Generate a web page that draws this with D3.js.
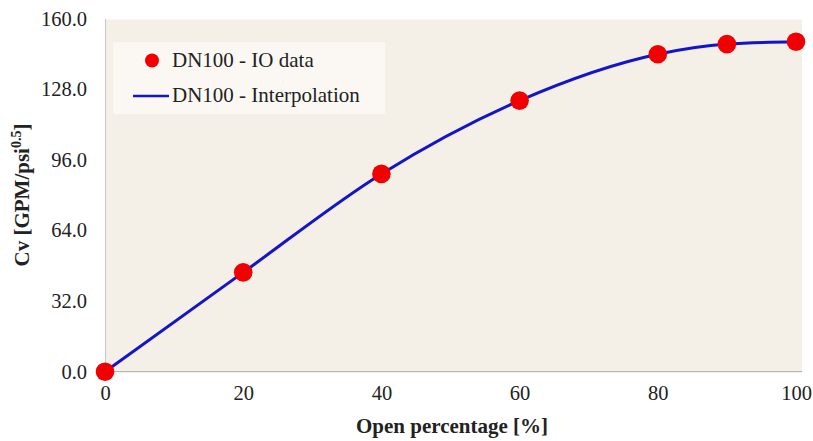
<!DOCTYPE html>
<html><head><meta charset="utf-8">
<script src="https://cdn.jsdelivr.net/npm/d3@7"></script>
<style>body{margin:0;background:#fff}svg{display:block}</style>
</head><body>
<svg id="c" width="813" height="441"></svg>
<script>
const openPct = [0, 20, 40, 60, 80, 90, 100];
const cvValues = [0, 45.0, 89.6, 122.8, 143.8, 148.4, 149.5];
const xTicks = [0, 20, 40, 60, 80, 100];
const yTicks = [0, 32, 64, 96, 128, 160];
const seriesNames = ["DN100 - IO data", "DN100 - Interpolation"];

const svg = d3.select("#c");
const x = d3.scaleLinear().domain([0, 100]).range([105, 796]);
const y = d3.scaleLinear().domain([0, 160]).range([371.7, 18.5]);
const ff = "Liberation Serif, Times New Roman, serif";

// plot area
svg.append("rect").attr("x", 105).attr("y", 19.5).attr("width", 697).attr("height", 352.2)
  .attr("fill", "#f5f0e7");

// axes
const xAxis = svg.append("g").attr("transform", "translate(0,371.7)")
  .call(d3.axisBottom(x).tickValues(xTicks).tickSize(0).tickPadding(14).tickFormat(d3.format("d")));
xAxis.select(".domain").attr("stroke", "#a8a8a8").attr("d", "M105,0H802");
const yAxis = svg.append("g").attr("transform", "translate(105,0)")
  .call(d3.axisLeft(y).tickValues(yTicks).tickSize(0).tickPadding(18).tickFormat(d3.format(".1f")));
yAxis.select(".domain").attr("stroke", "#c8c8c8");
svg.selectAll("g").attr("font-family", null);
svg.selectAll(".tick text").style("font-family", ff).attr("font-size", 20.5).attr("fill", "#222");

// line
const line = d3.line().x((d, i) => x(openPct[i])).y(d => y(d)).curve(d3.curveMonotoneX);
svg.append("path").datum(cvValues).attr("d", line).attr("fill", "none")
  .attr("stroke", "#1414c8").attr("stroke-width", 3);

// markers
svg.append("g").selectAll("circle").data(cvValues).join("circle")
  .attr("cx", (d, i) => x(openPct[i])).attr("cy", d => y(d)).attr("r", 9.3).attr("fill", "#f00000");

// legend
const lg = svg.append("g");
lg.append("rect").attr("x", 113).attr("y", 42).attr("width", 272).attr("height", 72).attr("fill", "#fbf8f3");
lg.append("circle").attr("cx", 152).attr("cy", 60.5).attr("r", 7).attr("fill", "#f00000");
lg.append("text").attr("x", 172).attr("y", 67).text(seriesNames[0]);
lg.append("line").attr("x1", 133).attr("x2", 169).attr("y1", 96).attr("y2", 96)
  .attr("stroke", "#1414c8").attr("stroke-width", 2.5);
lg.append("text").attr("x", 172).attr("y", 102).text(seriesNames[1]);
lg.selectAll("text").style("font-family", ff).attr("font-size", 21).attr("fill", "#222");

// titles
svg.append("text").attr("x", 452).attr("y", 433).attr("text-anchor", "middle").style("font-family", ff)
  .attr("font-size", 21).attr("font-weight", "bold").attr("fill", "#222")
  .text("Open percentage [%]");
const yt = svg.append("text").attr("transform", "translate(29,195) rotate(-90)").attr("text-anchor", "middle")
  .style("font-family", ff).attr("font-size", 21).attr("font-weight", "bold").attr("fill", "#222");
yt.append("tspan").text("Cv [GPM/psi");
yt.append("tspan").attr("dy", -8).attr("font-size", 14).text("0.5");
yt.append("tspan").attr("dy", 8).text("]");
</script>
</body></html>
